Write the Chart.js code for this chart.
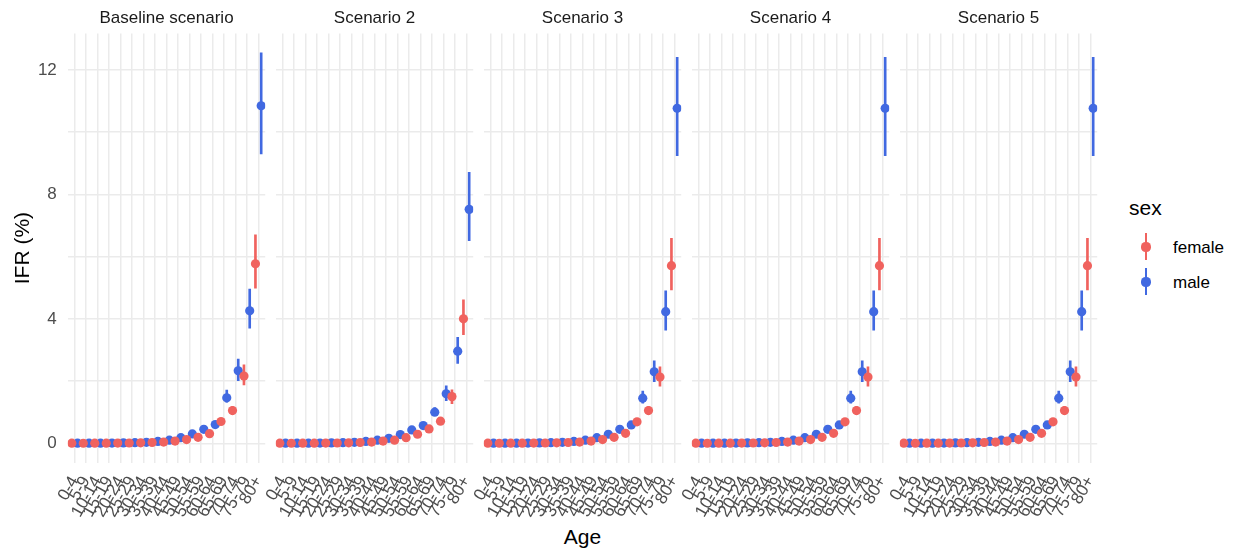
<!DOCTYPE html>
<html>
<head>
<meta charset="utf-8">
<script src="https://cdn.jsdelivr.net/npm/chart.js@4.4.1/dist/chart.umd.min.js"></script>
<style>
  html, body { margin: 0; padding: 0; background: #fff; }
  #wrap { position: relative; width: 1238px; height: 548px; overflow: hidden;
          font-family: "Liberation Sans", Arial, sans-serif; }
  #wrap canvas { position: absolute; top: 0; }
  .txt { position: absolute; white-space: nowrap; color: #000; line-height: 1; }
  .key { position: absolute; width: 20px; height: 30px; }
  .key .bar { position: absolute; left: 9px; top: 1px; width: 2px; height: 27px; }
  .key .dot { position: absolute; left: 5.4px; top: 10.4px; width: 9.2px; height: 9.2px; border-radius: 50%; }
</style>
</head>
<body>
<div id="wrap">
  <div class="txt" id="xTitle" style="font-size:21px; left:0; width:1165px; text-align:center; top:526px;">Age</div>
  <div class="txt" style="font-size:21px; left:1129px; top:197px;">sex</div>
  <div class="key" style="left:1136px; top:232px;"><div class="bar" style="background:#F0625E"></div><div class="dot" style="background:#F0625E"></div></div>
  <div class="txt" style="font-size:17px; left:1173px; top:239px;">female</div>
  <div class="key" style="left:1136px; top:267px;"><div class="bar" style="background:#4169E1"></div><div class="dot" style="background:#4169E1"></div></div>
  <div class="txt" style="font-size:17px; left:1173px; top:274px;">male</div>
</div>
<script>
// Age groups on the x axis
const ageGroups = ["0-4","5-9","10-14","15-19","20-24","25-29","30-34","35-39","40-44",
                   "45-49","50-54","55-59","60-64","65-69","70-74","75-79","80+"];
const scenarioNames = ["Baseline scenario","Scenario 2","Scenario 3","Scenario 4","Scenario 5"];
const yTickValues = [0, 2, 4, 6, 8, 10, 12];

// IFR (%) estimates with lower / upper bounds, by scenario and sex
const baselineFemale     = [0.002,0.001,0.002,0.004,0.006,0.009,0.015,0.025,0.040,0.070,0.120,0.190,0.310,0.700,1.050,2.160,5.770];
const baselineFemaleLow  = [0.001,0.001,0.001,0.003,0.005,0.007,0.012,0.020,0.030,0.060,0.100,0.160,0.270,0.610,0.930,1.880,4.990];
const baselineFemaleHigh = [0.003,0.002,0.003,0.006,0.008,0.012,0.019,0.031,0.050,0.090,0.140,0.220,0.360,0.800,1.180,2.520,6.700];
const baselineMale       = [0.003,0.002,0.004,0.008,0.013,0.020,0.032,0.060,0.100,0.180,0.300,0.450,0.600,1.460,2.330,4.260,10.850];
const baselineMaleLow    = [0.002,0.001,0.003,0.006,0.010,0.016,0.026,0.050,0.080,0.150,0.260,0.390,0.520,1.320,2.010,3.700,9.300];
const baselineMaleHigh   = [0.004,0.003,0.006,0.011,0.017,0.025,0.040,0.070,0.120,0.210,0.350,0.520,0.690,1.710,2.710,4.960,12.550];

const scen2Female     = [0.002,0.001,0.002,0.004,0.006,0.009,0.015,0.025,0.040,0.070,0.100,0.180,0.290,0.460,0.710,1.500,4.000];
const scen2FemaleLow  = [0.001,0.001,0.001,0.003,0.005,0.007,0.012,0.020,0.030,0.060,0.090,0.150,0.250,0.400,0.620,1.270,3.490];
const scen2FemaleHigh = [0.003,0.002,0.003,0.006,0.008,0.012,0.019,0.031,0.050,0.090,0.120,0.210,0.340,0.530,0.810,1.720,4.610];
const scen2Male       = [0.003,0.002,0.004,0.008,0.013,0.020,0.032,0.060,0.100,0.160,0.280,0.430,0.570,1.000,1.590,2.960,7.520];
const scen2MaleLow    = [0.002,0.001,0.003,0.006,0.010,0.016,0.026,0.050,0.080,0.130,0.240,0.370,0.490,0.890,1.370,2.570,6.510];
const scen2MaleHigh   = [0.004,0.003,0.006,0.011,0.017,0.025,0.040,0.070,0.120,0.190,0.320,0.490,0.660,1.150,1.850,3.410,8.710];

const scen3Female     = [0.002,0.001,0.002,0.004,0.006,0.009,0.015,0.025,0.040,0.070,0.120,0.190,0.320,0.690,1.050,2.130,5.710];
const scen3FemaleLow  = [0.001,0.001,0.001,0.003,0.005,0.007,0.012,0.020,0.030,0.060,0.100,0.160,0.270,0.610,0.930,1.840,4.930];
const scen3FemaleHigh = [0.003,0.002,0.003,0.006,0.008,0.012,0.019,0.031,0.050,0.090,0.140,0.220,0.370,0.790,1.180,2.460,6.590];
const scen3Male       = [0.003,0.002,0.004,0.008,0.013,0.020,0.032,0.060,0.100,0.180,0.290,0.450,0.590,1.450,2.300,4.230,10.770];
const scen3MaleLow    = [0.002,0.001,0.003,0.006,0.010,0.016,0.026,0.050,0.080,0.150,0.250,0.390,0.510,1.290,1.980,3.640,9.250];
const scen3MaleHigh   = [0.004,0.003,0.006,0.011,0.017,0.025,0.040,0.070,0.120,0.210,0.340,0.520,0.680,1.680,2.650,4.900,12.410];

const scen4Female     = [0.002,0.001,0.002,0.004,0.006,0.009,0.015,0.025,0.040,0.070,0.120,0.190,0.320,0.690,1.050,2.130,5.710];
const scen4FemaleLow  = [0.001,0.001,0.001,0.003,0.005,0.007,0.012,0.020,0.030,0.060,0.100,0.160,0.270,0.610,0.930,1.840,4.930];
const scen4FemaleHigh = [0.003,0.002,0.003,0.006,0.008,0.012,0.019,0.031,0.050,0.090,0.140,0.220,0.370,0.790,1.180,2.460,6.590];
const scen4Male       = [0.003,0.002,0.004,0.008,0.013,0.020,0.032,0.060,0.100,0.180,0.290,0.450,0.590,1.450,2.300,4.230,10.770];
const scen4MaleLow    = [0.002,0.001,0.003,0.006,0.010,0.016,0.026,0.050,0.080,0.150,0.250,0.390,0.510,1.290,1.980,3.640,9.250];
const scen4MaleHigh   = [0.004,0.003,0.006,0.011,0.017,0.025,0.040,0.070,0.120,0.210,0.340,0.520,0.680,1.680,2.650,4.900,12.410];

const scen5Female     = [0.002,0.001,0.002,0.004,0.006,0.009,0.015,0.025,0.040,0.070,0.120,0.190,0.320,0.690,1.050,2.130,5.710];
const scen5FemaleLow  = [0.001,0.001,0.001,0.003,0.005,0.007,0.012,0.020,0.030,0.060,0.100,0.160,0.270,0.610,0.930,1.840,4.930];
const scen5FemaleHigh = [0.003,0.002,0.003,0.006,0.008,0.012,0.019,0.031,0.050,0.090,0.140,0.220,0.370,0.790,1.180,2.460,6.590];
const scen5Male       = [0.003,0.002,0.004,0.008,0.013,0.020,0.032,0.060,0.100,0.180,0.290,0.450,0.590,1.450,2.300,4.230,10.770];
const scen5MaleLow    = [0.002,0.001,0.003,0.006,0.010,0.016,0.026,0.050,0.080,0.150,0.250,0.390,0.510,1.290,1.980,3.640,9.250];
const scen5MaleHigh   = [0.004,0.003,0.006,0.011,0.017,0.025,0.040,0.070,0.120,0.210,0.340,0.520,0.680,1.680,2.650,4.900,12.410];

const panels = [
  { name: scenarioNames[0], f: baselineFemale, fLo: baselineFemaleLow, fHi: baselineFemaleHigh, m: baselineMale, mLo: baselineMaleLow, mHi: baselineMaleHigh },
  { name: scenarioNames[1], f: scen2Female, fLo: scen2FemaleLow, fHi: scen2FemaleHigh, m: scen2Male, mLo: scen2MaleLow, mHi: scen2MaleHigh },
  { name: scenarioNames[2], f: scen3Female, fLo: scen3FemaleLow, fHi: scen3FemaleHigh, m: scen3Male, mLo: scen3MaleLow, mHi: scen3MaleHigh },
  { name: scenarioNames[3], f: scen4Female, fLo: scen4FemaleLow, fHi: scen4FemaleHigh, m: scen4Male, mLo: scen4MaleLow, mHi: scen4MaleHigh },
  { name: scenarioNames[4], f: scen5Female, fLo: scen5FemaleLow, fHi: scen5FemaleHigh, m: scen5Male, mLo: scen5MaleLow, mHi: scen5MaleHigh }
];

// Styling and facet geometry
const FONT = '"Liberation Sans", Arial, sans-serif';
const FEMALE_COLOR = '#F0625E';
const MALE_COLOR = '#4169E1';
const GRID_COLOR = '#EBEBEB';
const DODGE = 0.25;
const PANEL_LEFT0 = 67.8, PANEL_STEP = 208, PANEL_W = 197.4;
const PLOT_TOP = 33.4, PLOT_BOTTOM = 462.8, CANVAS_H = 548;
const X_AXIS_H = 70;

// Shared y range across facets, expanded 5% like the plotting default
let hiMax = -Infinity, loMin = Infinity;
panels.forEach(p => {
  hiMax = Math.max(hiMax, ...p.fHi, ...p.mHi);
  loMin = Math.min(loMin, ...p.fLo, ...p.mLo, 0);
});
const span = hiMax - loMin;
const Y_MIN = loMin - 0.05 * span, Y_MAX = hiMax + 0.05 * span;

const wrap = document.getElementById('wrap');

panels.forEach((p, k) => {
  const plotLeft = PANEL_LEFT0 + PANEL_STEP * k;
  const plotRight = plotLeft + PANEL_W;
  const canvasLeft = k === 0 ? 0 : Math.round(plotLeft - 40);
  const canvasW = Math.ceil(plotRight - canvasLeft) + 6;
  const yAxisW = k === 0 ? plotLeft : 0;
  const padL = k === 0 ? 0 : plotLeft - canvasLeft;
  const padR = canvasW - (plotRight - canvasLeft);
  const padB = CANVAS_H - PLOT_BOTTOM - X_AXIS_H;

  const cv = document.createElement('canvas');
  cv.width = canvasW; cv.height = CANVAS_H;
  cv.style.left = canvasLeft + 'px';
  cv.style.width = canvasW + 'px'; cv.style.height = CANVAS_H + 'px';
  wrap.appendChild(cv);

  const pts = (vals, off) => vals.map((v, i) => ({ x: i + off, y: v }));
  const bars = (lo, hi, off) => lo.map((l, i) => ({ x: i + off, y: [l, hi[i]] }));

  new Chart(cv, {
    type: 'scatter',
    data: {
      datasets: [
        { type: 'scatter', label: 'female', data: pts(p.f, -DODGE), order: 0,
          pointRadius: 4.6, pointBorderWidth: 0, backgroundColor: FEMALE_COLOR, borderColor: FEMALE_COLOR },
        { type: 'bar', label: 'female range', data: bars(p.fLo, p.fHi, -DODGE), order: 1,
          grouped: false, barThickness: 2, backgroundColor: FEMALE_COLOR, borderWidth: 0 },
        { type: 'scatter', label: 'male', data: pts(p.m, DODGE), order: 2,
          pointRadius: 4.6, pointBorderWidth: 0, backgroundColor: MALE_COLOR, borderColor: MALE_COLOR },
        { type: 'bar', label: 'male range', data: bars(p.mLo, p.mHi, DODGE), order: 3,
          grouped: false, barThickness: 2, backgroundColor: MALE_COLOR, borderWidth: 0 }
      ]
    },
    options: {
      responsive: false,
      animation: false,
      events: [],
      layout: { padding: { left: padL, right: padR, top: 0, bottom: padB } },
      plugins: {
        legend: { display: false },
        tooltip: { enabled: false },
        title: {
          display: true, text: p.name, fullSize: false, color: '#1A1A1A',
          font: { family: FONT, size: 17, weight: 'normal', lineHeight: 1.2 },
          padding: { top: 8.3, bottom: PLOT_TOP - 8.3 - 17 * 1.2 }
        }
      },
      scales: {
        x: {
          type: 'linear', min: -0.6, max: ageGroups.length - 0.4, offset: false,
          grid: { color: GRID_COLOR, lineWidth: 1.5, drawTicks: false, offset: false },
          border: { display: false },
          ticks: {
            autoSkip: false, minRotation: 60, maxRotation: 60, padding: 10,
            color: '#4D4D4D', font: { family: FONT, size: 17 },
            callback: (v) => ageGroups[v]
          },
          afterBuildTicks: (axis) => { axis.ticks = ageGroups.map((_, i) => ({ value: i })); },
          afterFit: (axis) => { axis.height = X_AXIS_H; axis.paddingLeft = 0; axis.paddingRight = 0; }
        },
        y: {
          type: 'linear', min: Y_MIN, max: Y_MAX,
          grid: { color: GRID_COLOR, lineWidth: 1.5, drawTicks: false },
          border: { display: false },
          ticks: {
            display: k === 0, padding: 11, color: '#4D4D4D',
            font: { family: FONT, size: 17 },
            callback: (v) => (v % 4 === 0 ? String(v) : '')
          },
          title: {
            display: k === 0, text: 'IFR (%)', color: '#000',
            font: { family: FONT, size: 21, lineHeight: 1.2 },
            padding: { top: 10.4, bottom: 0 }
          },
          afterBuildTicks: (axis) => { axis.ticks = yTickValues.map(v => ({ value: v })); },
          afterFit: (axis) => { axis.width = yAxisW; axis.paddingTop = 0; axis.paddingBottom = 0; }
        }
      }
    }
  });
});
</script>
</body>
</html>
